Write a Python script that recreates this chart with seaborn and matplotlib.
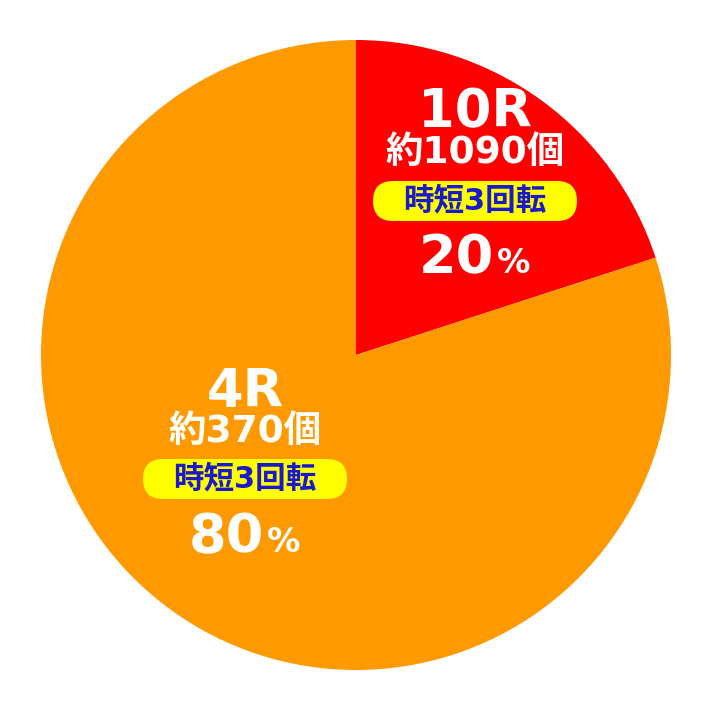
import matplotlib
matplotlib.use('Agg')
import matplotlib.pyplot as plt
from matplotlib.patches import FancyBboxPatch
import seaborn as sns

# data
rounds = ['10R', '4R']
balls = ['約1090個', '約370個']
shares = [20, 80]
notes = ['時短3回転', '時短3回転']
colors = ['#ff0000', '#ff9900']

sns.set_theme(style='white')
plt.rcParams['font.family'] = ['DejaVu Sans', 'Noto Sans CJK JP']

H = 710
fig = plt.figure(figsize=(7.12, 7.10), dpi=100)
ax = fig.add_axes([0, 0, 1, 1])
ax.pie(shares, colors=colors, startangle=90, counterclock=False,
       center=(356, H - 355), radius=315, wedgeprops={'linewidth': 0})
ax.set_xlim(0, 712)
ax.set_ylim(0, H)
ax.set_aspect('equal')
ax.axis('off')

# label layout for each slice (image pixel coords, y down)
layout = [
    dict(x=475, title_y=127, ball_y=153, pill_y=201, pct_y=273),
    dict(x=245, title_y=407, ball_y=432, pill_y=479, pct_y=552),
]

for i, pos in enumerate(layout):
    x = pos['x']
    ax.text(x, H - pos['title_y'], rounds[i], color='white', fontsize=38,
            fontweight='bold', ha='center', va='baseline')
    ax.text(x, H - pos['ball_y'], balls[i], color='white', fontsize=27,
            fontweight='bold', ha='center', va='center')
    pw, ph = 204, 40
    pill = FancyBboxPatch((x - pw / 2, H - pos['pill_y'] - ph / 2), pw, ph,
                          boxstyle='round,pad=0,rounding_size=20',
                          facecolor='#ffff00', edgecolor='none')
    ax.add_patch(pill)
    ax.text(x, H - pos['pill_y'], notes[i], color='#1a1acc', fontsize=22,
            fontweight='bold', ha='center', va='center')
    ax.text(x + 19, H - pos['pct_y'], str(shares[i]), color='white', fontsize=39,
            fontweight='bold', ha='right', va='baseline')
    ax.text(x + 22, H - pos['pct_y'], '%', color='white', fontsize=24,
            fontweight='bold', ha='left', va='baseline')

fig.savefig('out.png', dpi=100, facecolor='white')
